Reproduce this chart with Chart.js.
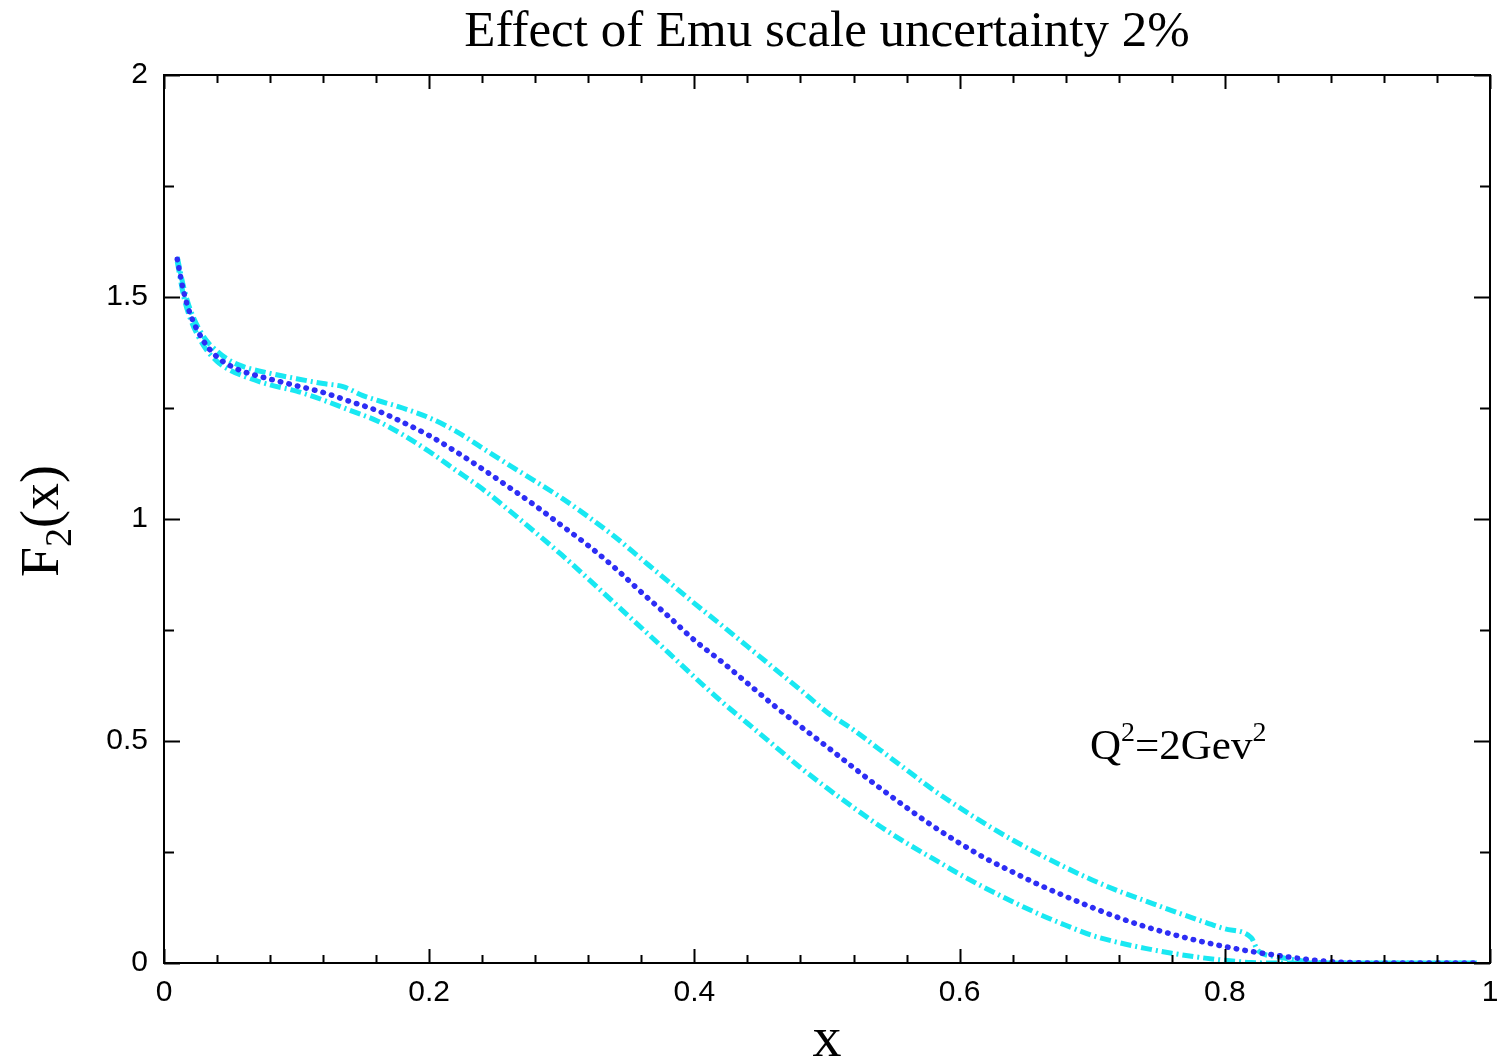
<!DOCTYPE html>
<html><head><meta charset="utf-8">
<script src="https://cdn.jsdelivr.net/npm/chart.js@4/dist/chart.umd.min.js"></script>
<style>html,body{margin:0;padding:0;background:#fff}#c{display:block}</style>
</head><body>
<div style="width:1499px;height:1062px"><canvas id="c" width="1499" height="1062"></canvas></div>
<script>
const titleText = "Effect of Emu scale uncertainty 2%";
const xTicks = [0, 0.2, 0.4, 0.6, 0.8, 1];
const yTicks = [0, 0.5, 1, 1.5, 2];

const xCentral = [0.01,0.015,0.02,0.03,0.04,0.05,0.06,0.08,0.10,0.12,0.14,0.16,0.18,0.20,0.22,0.24,0.26,0.28,0.30,0.32,0.34,0.36,0.38,0.40,0.42,0.44,0.46,0.48,0.50,0.52,0.54,0.56,0.58,0.60,0.62,0.64,0.66,0.68,0.70,0.72,0.74,0.76,0.78,0.80,0.82,0.84,0.86,0.88,0.90,0.92,0.94,0.96,0.98,0.99];
const yCentral = [1.585,1.51,1.46,1.40,1.365,1.345,1.332,1.315,1.30,1.285,1.265,1.245,1.218,1.188,1.152,1.113,1.072,1.03,0.985,0.94,0.89,0.835,0.782,0.727,0.68,0.63,0.58,0.533,0.487,0.44,0.394,0.35,0.308,0.27,0.235,0.205,0.176,0.15,0.125,0.102,0.082,0.065,0.05,0.037,0.026,0.017,0.009,0.003,0.0005,0,0,0,0,0];

const xUpper = [0.01,0.015,0.02,0.03,0.04,0.05,0.06,0.08,0.10,0.12,0.135,0.15,0.16,0.18,0.20,0.22,0.24,0.26,0.28,0.30,0.32,0.34,0.36,0.38,0.40,0.42,0.44,0.46,0.48,0.50,0.52,0.54,0.56,0.58,0.60,0.62,0.64,0.66,0.68,0.70,0.72,0.74,0.76,0.78,0.80,0.82,0.825,0.84,0.86,0.88,0.90,0.94,0.98,0.99];
const yUpper = [1.59,1.52,1.47,1.41,1.378,1.356,1.343,1.328,1.316,1.305,1.298,1.278,1.268,1.25,1.228,1.198,1.16,1.122,1.085,1.047,1.005,0.96,0.91,0.86,0.81,0.762,0.713,0.664,0.615,0.565,0.525,0.48,0.435,0.39,0.35,0.312,0.277,0.245,0.215,0.187,0.162,0.14,0.118,0.097,0.077,0.057,0.028,0.014,0.004,0,0,0,0,0];

const xLower = [0.01,0.015,0.02,0.03,0.04,0.05,0.06,0.08,0.10,0.12,0.14,0.15,0.16,0.18,0.20,0.22,0.24,0.26,0.28,0.30,0.32,0.34,0.36,0.38,0.40,0.42,0.44,0.46,0.48,0.50,0.52,0.54,0.56,0.58,0.60,0.62,0.64,0.66,0.68,0.70,0.72,0.74,0.76,0.78,0.80,0.82,0.84,0.88,0.92,0.96,0.99];
const yLower = [1.58,1.50,1.45,1.39,1.355,1.335,1.322,1.302,1.288,1.268,1.245,1.234,1.222,1.19,1.152,1.11,1.068,1.02,0.97,0.919,0.865,0.81,0.755,0.70,0.644,0.59,0.54,0.49,0.44,0.394,0.35,0.308,0.27,0.235,0.20,0.168,0.138,0.11,0.085,0.062,0.046,0.033,0.022,0.013,0.006,0.001,0,0,0,0,0];

function pts(xs, ys){ return xs.map((x,i)=>({x:x, y:ys[i]})); }

const BLUE = 'rgb(45,45,245)';
const CYAN = 'rgb(25,232,242)';
const SERIF = '"Liberation Serif", "DejaVu Serif", serif';

const decor = {
  id: 'decor',
  afterDraw(chart){
    const ctx = chart.ctx, a = chart.chartArea;
    const xs = chart.scales.x, ys = chart.scales.y;
    ctx.save();
    ctx.strokeStyle = '#000';
    ctx.lineWidth = 2;
    ctx.beginPath();
    for (let i = 0; i <= 25; i++) {
      const v = i * 0.04;
      const px = Math.round(xs.getPixelForValue(v)) + 0.5;
      const len = (i % 5 === 0) ? 14 : 8;
      ctx.moveTo(px, a.bottom); ctx.lineTo(px, a.bottom - len);
      ctx.moveTo(px, a.top); ctx.lineTo(px, a.top + len);
    }
    for (let i = 0; i <= 8; i++) {
      const v = i * 0.25;
      const py = Math.round(ys.getPixelForValue(v)) + 0.5;
      const len = (i % 2 === 0) ? 16 : 10;
      ctx.moveTo(a.left, py); ctx.lineTo(a.left + len, py);
      ctx.moveTo(a.right, py); ctx.lineTo(a.right - len, py);
    }
    ctx.stroke();
    ctx.strokeRect(a.left, a.top, a.right - a.left, a.bottom - a.top);

    ctx.fillStyle = '#000';
    ctx.textBaseline = 'alphabetic';
    ctx.textAlign = 'center';
    const cx = (a.left + a.right) / 2;
    ctx.font = '51px ' + SERIF;
    ctx.fillText(titleText, cx, 46);

    ctx.font = '58px ' + SERIF;
    ctx.fillText('x', cx, 1056);

    ctx.save();
    ctx.translate(58, (a.top + a.bottom) / 2 + 2);
    ctx.rotate(-Math.PI / 2);
    ctx.textAlign = 'left';
    const big = '54px ' + SERIF;
    const small = '38px ' + SERIF;
    ctx.font = big; const wF = ctx.measureText('F').width;
    ctx.font = small; const w2 = ctx.measureText('2').width;
    ctx.font = big; const wX = ctx.measureText('(x)').width;
    let x0 = -(wF + w2 + wX) / 2;
    ctx.font = big; ctx.fillText('F', x0, 0);
    ctx.font = small; ctx.fillText('2', x0 + wF, 13);
    ctx.font = big; ctx.fillText('(x)', x0 + wF + w2, 0);
    ctx.restore();

    const mainF = '43px ' + SERIF;
    const supF = '28px ' + SERIF;
    let tx = 1090; const by = 759;
    ctx.textAlign = 'left';
    ctx.font = mainF; ctx.fillText('Q', tx, by); tx += ctx.measureText('Q').width;
    ctx.font = supF; ctx.fillText('2', tx, by - 18); tx += ctx.measureText('2').width;
    ctx.font = mainF; ctx.fillText('=2Gev', tx, by); tx += ctx.measureText('=2Gev').width;
    ctx.font = supF; ctx.fillText('2', tx, by - 18);
    ctx.restore();
  }
};

const tickFont = { family: '"Liberation Sans", Arial, sans-serif', size: 30 };

new Chart(document.getElementById('c'), {
  type: 'line',
  data: {
    datasets: [
      { label: 'central', data: pts(xCentral, yCentral), borderColor: BLUE, borderWidth: 5.5,
        borderDash: [0.5, 8.3], borderCapStyle: 'round', pointRadius: 0, fill: false,
        cubicInterpolationMode: 'monotone', order: 0 },
      { label: 'upper', data: pts(xUpper, yUpper), borderColor: CYAN, borderWidth: 5,
        borderDash: [11, 4, 2, 4], borderCapStyle: 'butt', pointRadius: 0, fill: false,
        cubicInterpolationMode: 'monotone', order: 1 },
      { label: 'lower', data: pts(xLower, yLower), borderColor: CYAN, borderWidth: 5,
        borderDash: [11, 4, 2, 4], borderCapStyle: 'butt', pointRadius: 0, fill: false,
        cubicInterpolationMode: 'monotone', order: 2 }
    ]
  },
  options: {
    responsive: false,
    animation: false,
    devicePixelRatio: 1,
    layout: { padding: { top: 75, right: 9, left: 0, bottom: 0 } },
    plugins: { legend: { display: false }, tooltip: { enabled: false }, title: { display: false } },
    scales: {
      x: {
        type: 'linear', min: 0, max: 1,
        grid: { display: false, drawTicks: false },
        border: { display: false },
        afterBuildTicks: (s) => { s.ticks = xTicks.map(v => ({ value: v })); },
        afterFit: (s) => { s.height = 99; s.paddingLeft = 0; s.paddingRight = 0; },
        ticks: { color: '#000', padding: 12, maxRotation: 0, autoSkip: false, font: tickFont,
          callback: (v) => String(v) }
      },
      y: {
        type: 'linear', min: 0, max: 2,
        grid: { display: false, drawTicks: false },
        border: { display: false },
        afterBuildTicks: (s) => { s.ticks = yTicks.map(v => ({ value: v })); },
        afterFit: (s) => { s.width = 164; s.paddingTop = 0; s.paddingBottom = 0; },
        ticks: { color: '#000', padding: 16, autoSkip: false, font: tickFont,
          callback: (v) => String(v) }
      }
    }
  },
  plugins: [decor]
});
</script>
</body></html>
